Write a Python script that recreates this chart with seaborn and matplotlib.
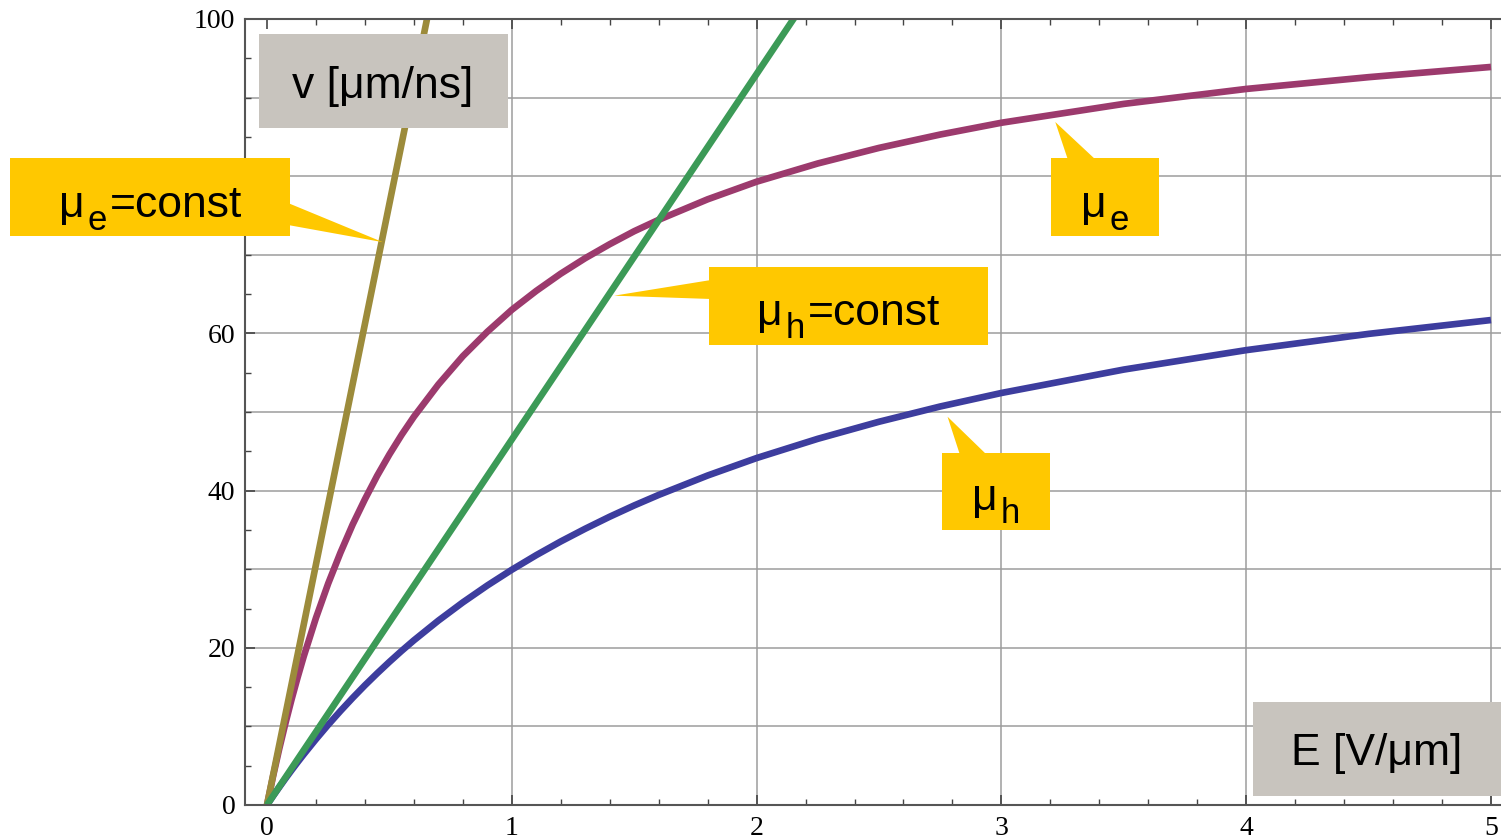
import numpy as np
import pandas as pd
import matplotlib
matplotlib.use("Agg")
import matplotlib.pyplot as plt
import seaborn as sns
from matplotlib.patches import Rectangle, Polygon
from matplotlib.ticker import MultipleLocator, FuncFormatter

# ---- data ----
E_curve = [0, 0.025, 0.05, 0.075, 0.1, 0.125, 0.15, 0.2, 0.25, 0.3, 0.35, 0.4, 0.45,
           0.5, 0.55, 0.6, 0.7, 0.8, 0.9, 1.0, 1.1, 1.2, 1.3, 1.4, 1.5, 1.6, 1.8, 2.0,
           2.25, 2.5, 2.75, 3.0, 3.5, 4.0, 4.5, 5.0]
v_mu_e = [0, 3.69, 7.14, 10.36, 13.39, 16.22, 18.9, 23.8, 28.18, 32.1, 35.69, 38.9,
          41.89, 44.6, 47.10, 49.4, 53.5, 57.1, 60.21, 63.0, 65.41, 67.60, 69.57,
          71.35, 73.0, 74.45, 77.06, 79.3, 81.62, 83.6, 85.30, 86.8, 89.2, 91.1,
          92.6, 93.9]
v_mu_h = [0, 1.15, 2.26, 3.35, 4.41, 5.44, 6.44, 8.37, 10.21, 11.96, 13.63, 15.23,
          16.75, 18.21, 19.61, 20.95, 23.46, 25.78, 27.93, 29.93, 31.79, 33.53, 35.15,
          36.68, 38.11, 39.45, 41.92, 44.14, 46.59, 48.76, 50.70, 52.42, 55.40, 57.87,
          59.94, 61.70]
E_line = [0, 5]
v_mu_e_const = [0, 765]
v_mu_h_const = [0, 232.5]

x_label = "E [V/μm]"
y_label = "v [μm/ns]"
# y tick label hidden behind the callout in the reference
hidden_ytick = 80
# callout labels: (main, subscript, rest)
lab_e_const = ("μ", "e", "=const")
lab_h_const = ("μ", "h", "=const")
lab_e = ("μ", "e", "")
lab_h = ("μ", "h", "")

c_olive = "#9C8B3B"
c_mag = "#9C3A6D"
c_green = "#3C9A57"
c_blue = "#3D3D9E"
c_yellow = "#FFC800"
c_gray = "#C8C4BE"

sns.set_theme(style="white")
plt.rcParams["font.family"] = ["Liberation Sans", "DejaVu Sans"]

W, H = 1501, 840
fig = plt.figure(figsize=(W / 100, H / 100), dpi=100)
fig.patch.set_facecolor("white")
ax = fig.add_axes([245 / W, (H - 805) / H, (1501 - 245) / W, (805 - 19) / H])
ax.set_facecolor("white")

sc = 244.8
xlim = (-22 / sc, (1501 - 267) / sc)

# grid
for yv in range(10, 100, 10):
    ax.axhline(yv, color="#9c9c9c", lw=1.1, zorder=0.5)
for xv in range(1, 6):
    ax.axvline(xv, color="#9c9c9c", lw=1.1, zorder=0.5)

lw = 4.8
kw = dict(lw=lw, ax=ax, sort=False, solid_capstyle="butt", solid_joinstyle="round")
sns.lineplot(x=E_curve, y=v_mu_e, color=c_mag, **kw)
sns.lineplot(x=E_curve, y=v_mu_h, color=c_blue, **kw)
sns.lineplot(x=E_line, y=v_mu_e_const, color=c_olive, **kw)
sns.lineplot(x=E_line, y=v_mu_h_const, color=c_green, **kw)
ax.set_xlim(*xlim)
ax.set_ylim(0, 100)
ax.set_xlabel("")
ax.set_ylabel("")

# spines & ticks
for s in ["left", "bottom", "top"]:
    ax.spines[s].set_visible(True)
    ax.spines[s].set_color("#555555")
    ax.spines[s].set_linewidth(1.5)
ax.spines["right"].set_visible(False)
ax.xaxis.set_major_locator(MultipleLocator(1))
ax.xaxis.set_minor_locator(MultipleLocator(0.2))
ax.yaxis.set_major_locator(MultipleLocator(20))
ax.yaxis.set_minor_locator(MultipleLocator(5))
ax.xaxis.set_major_formatter(FuncFormatter(lambda v, p: f"{v:g}"))
ax.yaxis.set_major_formatter(
    FuncFormatter(lambda v, p: "" if abs(v - hidden_ytick) < 1e-6 else f"{v:g}"))
ax.tick_params(axis="both", which="both", direction="in", color="#444444",
               top=True, bottom=True, left=True, right=False, labeltop=False)
ax.tick_params(which="major", length=7.2, width=1.2)
ax.tick_params(which="minor", length=4.3, width=1.0)
ax.tick_params(axis="x", labelsize=20, pad=8, labelcolor="black")
ax.tick_params(axis="y", labelsize=20, pad=7, labelcolor="black")
for t in ax.get_xticklabels() + ax.get_yticklabels():
    t.set_family("Liberation Serif")


def fp(x, y):
    return (x / W, 1 - y / H)


def dp(x, y):
    d = ax.transData.transform((x, y))
    return tuple(fig.transFigure.inverted().transform(d))


def box(x0, y0, x1, y1, color):
    r = Rectangle(fp(x0, y1), (x1 - x0) / W, (y1 - y0) / H, transform=fig.transFigure,
                  facecolor=color, edgecolor="none", zorder=5)
    fig.add_artist(r)


def wedge(pts, color):
    p = Polygon(pts, closed=True, transform=fig.transFigure, facecolor=color,
                edgecolor="none", zorder=5)
    fig.add_artist(p)


FS = 32


def label(x, y, s):
    fig.text(x / W, 1 - y / H, s, fontsize=FS, ha="center", va="baseline",
             color="black", zorder=6, family="Liberation Sans")


renderer = fig.canvas.get_renderer()


def sublabel(xc, base, parts, fs=FS, sub_fs=25, drop=13, gap=3):
    main, sub, rest = parts
    pieces = [(main, fs, 0), (sub, sub_fs, drop), (rest, fs, 0)]
    arts = []
    for s, f, d in pieces:
        if not s:
            continue
        t = fig.text(0, 0, s, fontsize=f, ha="left", va="baseline", color="black",
                     zorder=6, family="Liberation Sans")
        arts.append((t, d))
    widths = [t.get_window_extent(renderer).width for t, _ in arts]
    total = sum(widths) + gap * (len(arts) - 1)
    x = xc - total / 2
    for (t, d), w in zip(arts, widths):
        t.set_position((x / W, 1 - (base + d) / H))
        x += w + gap


# gray axis-label boxes
box(259, 34, 508, 128, c_gray)
label(383, 98, y_label)
box(1253, 702, 1505, 796, c_gray)
label(1377, 765, x_label)

# yellow callouts
box(10, 158, 290, 236, c_yellow)
wedge([fp(288, 203), fp(288, 225), dp(0.474, 71.6)], c_yellow)
sublabel(151, 217, lab_e_const)

box(709, 267, 988, 345, c_yellow)
wedge([fp(711, 280), fp(711, 299), dp(1.418, 64.8)], c_yellow)
sublabel(849, 325, lab_h_const)

box(942, 453, 1050, 530, c_yellow)
wedge([fp(960, 455), fp(987, 455), dp(2.78, 49.4)], c_yellow)
sublabel(996, 510, lab_h)

box(1051, 158, 1159, 236, c_yellow)
wedge([fp(1068, 160), fp(1096, 160), dp(3.22, 86.9)], c_yellow)
sublabel(1105, 217, lab_e)

fig.savefig("out.png", dpi=100, facecolor="white")
